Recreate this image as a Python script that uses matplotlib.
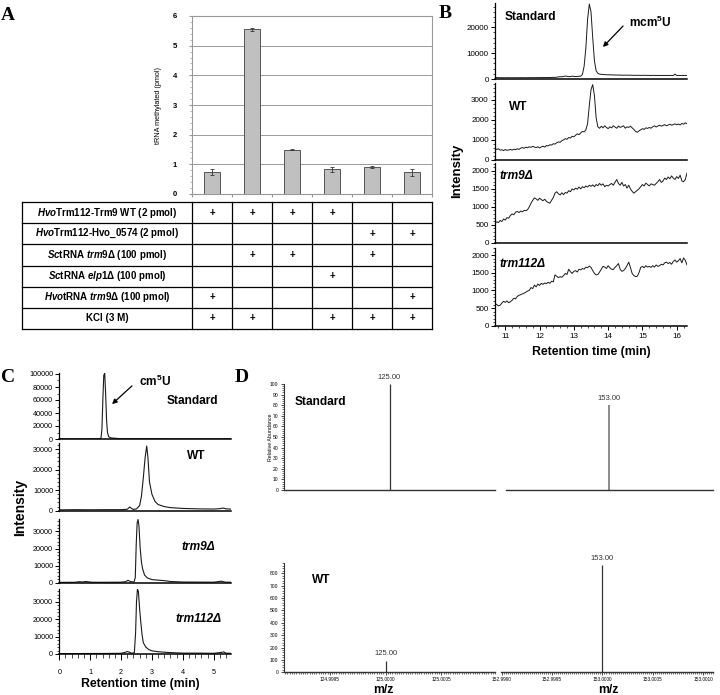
import numpy as np
import matplotlib
matplotlib.use("Agg")
import matplotlib.pyplot as plt
from matplotlib.ticker import MultipleLocator

plt.rcParams['font.family'] = ['Liberation Sans', 'DejaVu Sans']
plt.rcParams['mathtext.fontset'] = 'custom'
plt.rcParams['mathtext.it'] = 'Liberation Sans:italic:bold'
plt.rcParams['mathtext.rm'] = 'Liberation Sans:bold'
plt.rcParams['mathtext.bf'] = 'Liberation Sans:bold'

W, H = 720, 695

# ---------------- panel A data ----------------
bar_values = [0.73, 5.55, 1.50, 0.83, 0.90, 0.73]
bar_errors = [0.10, 0.05, 0.03, 0.08, 0.03, 0.12]
row_labels = [
    r"$\mathit{Hvo}$Trm112-Trm9 WT (2 pmol)",
    r"$\mathit{Hvo}$Trm112-Hvo_0574 (2 pmol)",
    r"$\mathit{Sc}$tRNA $\mathit{trm9}$Δ (100 pmol)",
    r"$\mathit{Sc}$tRNA $\mathit{elp1}$Δ (100 pmol)",
    r"$\mathit{Hvo}$tRNA $\mathit{trm9}$Δ (100 pmol)",
    "KCl (3 M)",
]
row_marks = [
    [1, 1, 1, 1, 0, 0],
    [0, 0, 0, 0, 1, 1],
    [0, 1, 1, 0, 1, 0],
    [0, 0, 0, 1, 0, 0],
    [1, 0, 0, 0, 0, 1],
    [1, 1, 0, 1, 1, 1],
]

# ---------------- panel B data (retention time, min) ----------------
b_time = np.round(np.arange(10.70, 16.301, 0.05), 2)
b_standard = [
    600, 550, 500, 520, 480, 500, 470, 490, 500, 480,
    470, 490, 500, 480, 500, 520, 510, 500, 490, 510,
    520, 530, 510, 520, 540, 530, 550, 540, 560, 550,
    570, 560, 580, 600, 620, 640, 700, 800, 900, 850,
    1000, 1150, 1050, 900, 950, 1100, 1000, 950, 1000, 1050,
    1100, 1800, 5000, 12000, 23000, 29000, 26000, 16000, 7000, 3200,
    2200, 1900, 1800, 1750, 1700, 1650, 1600, 1650, 1600, 1550,
    1550, 1500, 1550, 1500, 1500, 1450, 1500, 1450, 1500, 1450,
    1450, 1400, 1450, 1400, 1450, 1400, 1400, 1450, 1400, 1400,
    1400, 1350, 1400, 1400, 1350, 1400, 1350, 1400, 1350, 1400,
    1350, 1400, 1350, 1400, 1350, 1900, 1350, 1400, 1350, 1400,
    1350, 1400, 1350,
]
b_wt = [
    580, 520, 560, 490, 510, 470, 520, 480, 500, 530,
    490, 540, 510, 560, 530, 590, 620, 580, 640, 610,
    660, 630, 680, 640, 620, 660, 600, 650, 690, 640,
    720, 700, 760, 740, 810, 790, 860, 900, 880, 960,
    1000, 1060, 1030, 1120, 1090, 1180, 1150, 1230, 1300, 1260,
    1350, 1420, 1400, 1500, 1800, 2700, 3500, 3750, 3200, 2100,
    1650, 1580, 1680, 1600, 1700, 1620, 1560, 1650, 1600, 1700,
    1640, 1580, 1690, 1620, 1660, 1700, 1580, 1650, 1620, 1680,
    1600, 1520, 1420, 1380, 1450, 1500, 1560, 1520, 1600, 1570,
    1620, 1580, 1650, 1700, 1640, 1690, 1730, 1680, 1720, 1760,
    1700, 1740, 1780, 1730, 1760, 1800, 1750, 1790, 1740, 1820,
    1780, 1850, 1800,
]
b_trm9 = [
    540, 580, 560, 620, 590, 660, 630, 700, 680, 760,
    800, 780, 850, 870, 840, 880, 860, 900, 890, 920,
    1000, 1100, 1180, 1250, 1220, 1180, 1240, 1200, 1170, 1210,
    1150, 1120, 1100, 1180, 1260, 1380, 1420, 1360, 1330, 1390,
    1340, 1400, 1380, 1450, 1420, 1500, 1470, 1520, 1490, 1550,
    1500, 1560, 1530, 1580, 1550, 1600, 1570, 1610, 1560, 1620,
    1590, 1650, 1600, 1640, 1560, 1600, 1580, 1620, 1650, 1600,
    1680, 1760, 1650, 1600, 1680, 1580, 1620, 1520, 1600, 1500,
    1430, 1380, 1420, 1460, 1500, 1560, 1620, 1580, 1660, 1620,
    1580, 1640, 1620, 1600, 1650, 1700, 1760, 1680, 1720, 1800,
    1760, 1830, 1780, 1860, 1800, 1760, 1840, 1790, 1880, 1720,
    1700, 1760, 1940,
]
b_trm112 = [
    620, 600, 560, 580, 640, 690, 660, 700, 650, 680,
    720, 780, 760, 830, 860, 880, 900, 920, 950, 980,
    1000, 1080, 1050, 1150, 1100, 1180, 1140, 1200, 1170, 1210,
    1190, 1230, 1200, 1260, 1240, 1440, 1400, 1360, 1390, 1370,
    1420, 1480, 1450, 1600, 1530, 1480, 1540, 1560, 1520, 1600,
    1580, 1620, 1600, 1660, 1640, 1690, 1650, 1560, 1480, 1440,
    1450, 1520, 1600, 1680, 1660, 1620, 1700, 1640, 1600, 1590,
    1650, 1700, 1760, 1600, 1540, 1560, 1620, 1700, 1800, 1650,
    1480, 1420, 1390, 1400, 1500, 1650, 1680, 1640, 1700, 1660,
    1680, 1650, 1700, 1660, 1720, 1680, 1700, 1740, 1720, 1780,
    1800, 1760, 1790, 1740, 1820, 1860, 1800, 1840, 1900, 1780,
    1920, 1850, 1720,
]

# ---------------- panel C data ----------------
c_std_t = [0.0, 0.5, 1.0, 1.2, 1.3, 1.35, 1.38, 1.41, 1.44, 1.47, 1.50, 1.53,
           1.56, 1.60, 1.65, 1.7, 1.8, 1.9, 2.0, 2.5, 3.0, 3.5, 4.0, 4.5, 5.0, 5.55]
c_std_i = [200, 200, 250, 300, 400, 1500, 15000, 60000, 98000, 101000, 70000, 30000,
           10000, 3500, 2000, 1500, 1200, 700, 400, 300, 300, 250, 250, 250, 250, 250]
c_wt_t = [0.0, 0.5, 1.0, 1.5, 2.0, 2.2, 2.28, 2.33, 2.4, 2.5, 2.6, 2.66, 2.72, 2.78,
          2.83, 2.87, 2.92, 3.0, 3.1, 3.2, 3.4, 3.6, 4.0, 4.5, 5.0, 5.2, 5.3, 5.4, 5.55]
c_wt_i = [400, 500, 450, 500, 500, 700, 1800, 1200, 600, 900, 2500, 7000, 16000, 26000,
          31500, 26000, 14000, 8000, 4500, 3000, 2000, 1500, 1100, 900, 800, 1000, 1300, 900, 800]
c_trm9_t = [0.0, 0.5, 0.65, 0.75, 0.85, 0.95, 1.05, 1.2, 1.5, 2.0, 2.15, 2.22, 2.28, 2.35,
            2.42, 2.46, 2.49, 2.52, 2.55, 2.58, 2.62, 2.66, 2.7, 2.76, 2.85, 3.0, 3.2, 3.4,
            3.6, 4.0, 4.5, 5.0, 5.25, 5.32, 5.4, 5.55]
c_trm9_i = [200, 250, 600, 400, 700, 500, 300, 250, 250, 300, 600, 1400, 900, 500,
            400, 3000, 22000, 35000, 37000, 33000, 20000, 12000, 8000, 4500, 2800, 1800, 1500, 1200,
            700, 400, 350, 300, 900, 500, 300, 300]
c_trm112_t = [0.0, 0.5, 1.0, 1.5, 2.0, 2.12, 2.2, 2.27, 2.35, 2.43, 2.47, 2.5, 2.53, 2.56,
              2.6, 2.64, 2.68, 2.72, 2.8, 2.9, 3.0, 3.2, 3.5, 4.0, 4.5, 5.0, 5.25, 5.32, 5.4, 5.55]
c_trm112_i = [200, 250, 300, 300, 400, 900, 1400, 1000, 400, 800, 12000, 30000, 37000, 36000,
              26000, 18000, 11000, 6500, 4000, 2500, 1800, 1300, 900, 500, 500, 400, 900, 1200, 500, 400]

# ---------------- panel D data ----------------
d_mz = [125.00, 153.00]
d_std_rel = [100, 80]
d_wt_abs = [94, 865]
d_left_ticks = [124.9995, 125.0000, 125.0005]
d_right_ticks = [152.9990, 152.9995, 153.0000, 153.0005, 153.0010]


fig = plt.figure(figsize=(W / 100, H / 100), dpi=100)


def add_ax(x0, y0, x1, y1):
    # pixel box (top-left origin) -> figure fraction
    return fig.add_axes([x0 / W, 1 - y1 / H, (x1 - x0) / W, (y1 - y0) / H])


def ftext(x, y, s, **kw):
    kw.setdefault('va', 'center')
    return fig.text(x / W, 1 - y / H, s, **kw)


def arrow(x0, y0, x1, y1):
    fig.add_artist(matplotlib.patches.FancyArrowPatch(
        (x0 / W, 1 - y0 / H), (x1 / W, 1 - y1 / H), transform=fig.transFigure,
        arrowstyle='-|>', mutation_scale=7, lw=0.9, color='black'))


# ================= A: bar chart =================
ax = add_ax(192, 16, 432, 194)
xpos = np.arange(len(bar_values)) + 0.5
ax.bar(xpos, bar_values, width=0.4, color='#c0c0c0', edgecolor='#555555', linewidth=0.7,
       yerr=bar_errors, error_kw=dict(ecolor='#333333', elinewidth=0.6, capsize=1.2, capthick=0.6),
       zorder=3)
ax.set_xlim(0, len(bar_values))
ax.set_ylim(0, 6)
ax.yaxis.grid(True, color='#9a9a9a', lw=0.7)
ax.set_axisbelow(True)
ax.set_xticks(np.arange(len(bar_values) + 1))
ax.set_xticklabels([])
ax.set_yticks(range(7))
ax.yaxis.set_minor_locator(MultipleLocator(0.2))
ax.tick_params(axis='x', length=2, color='#999999')
ax.tick_params(axis='y', which='major', length=2, color='#999999', labelsize=5.5, pad=9)
ax.tick_params(axis='y', which='minor', length=1.2, color='#aaaaaa')
for lab in ax.get_yticklabels():
    lab.set_fontweight('bold')
for s in ax.spines.values():
    s.set_color('#999999')
    s.set_linewidth(0.8)
ax.set_ylabel('tRNA methylated (pmol)', fontsize=5.2)
ax.yaxis.set_label_coords(-30 / 240, 0.5)

# table below the bars
tab = add_ax(22, 202, 432, 329)
label_w = 170 / 40
tab.set_xlim(-label_w, len(bar_values))
tab.set_ylim(len(row_labels), 0)
tab.axis('off')
for r in range(len(row_labels) + 1):
    tab.axhline(r, color='black', lw=0.9, clip_on=False)
for c in [-label_w] + list(range(len(bar_values) + 1)):
    tab.axvline(c, color='black', lw=0.9, clip_on=False)
for r, (lab, marks) in enumerate(zip(row_labels, row_marks)):
    tab.text(-label_w / 2, r + 0.5, lab, ha='center', va='center', fontsize=7, fontweight='bold')
    for c, m in enumerate(marks):
        if m:
            tab.text(c + 0.5, r + 0.5, '+', ha='center', va='center', fontsize=7, fontweight='bold')


# ================= shared style for chromatograms =================
def style_trace(ax, xlim, ylim, ymajor, yminor, show_x, xmajor, xminor, lsize, xpad=2, xlen=3):
    ax.set_xlim(*xlim)
    ax.set_ylim(*ylim)
    ax.patch.set_alpha(0)
    for s in ('top', 'right'):
        ax.spines[s].set_visible(False)
    ax.spines['left'].set_linewidth(0.9)
    ax.spines['bottom'].set_linewidth(1.1)
    ax.yaxis.set_major_locator(MultipleLocator(ymajor))
    ax.yaxis.set_minor_locator(MultipleLocator(yminor))
    ax.tick_params(axis='y', which='major', length=3, width=0.7, labelsize=lsize, pad=1.5)
    ax.tick_params(axis='y', which='minor', length=1.8, width=0.5)
    if show_x:
        ax.xaxis.set_major_locator(MultipleLocator(xmajor))
        ax.xaxis.set_minor_locator(MultipleLocator(xminor))
        ax.tick_params(axis='x', which='major', length=xlen, width=0.7, labelsize=lsize, pad=xpad)
        ax.tick_params(axis='x', which='minor', length=xlen * 0.6, width=0.5)
    else:
        ax.tick_params(axis='x', which='both', bottom=False, labelbottom=False)


# ================= B =================
b_boxes = [(495, 3, 687, 79), (495, 83, 687, 160), (495, 163, 687, 242.7), (495, 248, 687, 325.7)]
b_traces = [b_standard, b_wt, b_trm9, b_trm112]
b_ylims = [(0, 29400), (0, 3830), (0, 2220), (0, 2200)]
b_major = [10000, 1000, 500, 500]
b_minor = [2000, 200, 100, 100]
for i, (box, tr) in enumerate(zip(b_boxes, b_traces)):
    bax = add_ax(*box)
    bax.plot(b_time, tr, color='#1a1a1a', lw=0.7)
    style_trace(bax, (10.7, 16.3), b_ylims[i], b_major[i], b_minor[i],
                i == len(b_boxes) - 1, 1, 0.2, 5.8)

ftext(505, 17, 'Standard', fontsize=8.6, fontweight='bold')
ftext(629, 22, r'mcm$^{\mathbf{5}}$U', fontsize=8.6, fontweight='bold')
arrow(625, 24, 601, 49)
ftext(509, 107, 'WT', fontsize=8.6, fontweight='bold')
ftext(500, 176, 'trm9Δ', fontsize=8.6, fontweight='bold', style='italic')
ftext(500, 264, 'trm112Δ', fontsize=8.6, fontweight='bold', style='italic')
ftext(457, 171, 'Intensity', fontsize=9.5, fontweight='bold', rotation=90, ha='center')
ftext(591, 352, 'Retention time (min)', fontsize=8.8, fontweight='bold', ha='center')

# ================= C =================
c_boxes = [(59.3, 372.7, 230.7, 439), (59.3, 443, 230.7, 510.7),
           (59.3, 519, 230.7, 582.7), (59.3, 589, 230.7, 654)]
c_traces = [(c_std_t, c_std_i), (c_wt_t, c_wt_i), (c_trm9_t, c_trm9_i), (c_trm112_t, c_trm112_i)]
c_ylims = [(0, 102000), (0, 33000), (0, 37300), (0, 37200)]
c_major = [20000, 10000, 10000, 10000]
c_minor = [10000, 2000, 2000, 2000]
for i, (box, (tt, yy)) in enumerate(zip(c_boxes, c_traces)):
    cax = add_ax(*box)
    cax.plot(tt, yy, color='#1a1a1a', lw=0.8)
    style_trace(cax, (0, 5.55), c_ylims[i], c_major[i], c_minor[i],
                i == len(c_boxes) - 1, 1, 0.2, 5.2, xpad=6, xlen=4.5)

ftext(139, 381, r'cm$^{\mathbf{5}}$U', fontsize=8.6, fontweight='bold')
arrow(134, 384, 110, 406)
ftext(192, 401, 'Standard', fontsize=8.6, fontweight='bold', ha='center')
ftext(196, 456, 'WT', fontsize=8.6, fontweight='bold', ha='center')
ftext(198, 547, 'trm9Δ', fontsize=8.6, fontweight='bold', style='italic', ha='center')
ftext(199, 619, 'trm112Δ', fontsize=8.6, fontweight='bold', style='italic', ha='center')
ftext(20, 507, 'Intensity', fontsize=10, fontweight='bold', rotation=90, ha='center')
ftext(140, 684, 'Retention time (min)', fontsize=8.8, fontweight='bold', ha='center')

# ================= D =================
d_tl = add_ax(284, 384, 495, 490)
d_tr = add_ax(505.7, 384, 713.3, 490)
d_bl = add_ax(284, 563.3, 495, 672.3)
d_br = add_ax(500.7, 563.3, 713.3, 672.3)
top_left_lim = (124.998942, 125.001058)
top_right_lim = (152.998955, 153.001055)
left_lim = (124.99909, 125.00098)
right_lim = (152.99899, 153.0011)

panels = [
    (d_tl, d_mz[0], d_std_rel[0], top_left_lim, (0, 100), '#333333', 0.9),
    (d_tr, d_mz[1], d_std_rel[1], top_right_lim, (0, 100), '#8c8c8c', 1.4),
    (d_bl, d_mz[0], d_wt_abs[0], left_lim, (0, 880), '#333333', 0.9),
    (d_br, d_mz[1], d_wt_abs[1], right_lim, (0, 880), '#333333', 0.9),
]
for dax, mz, val, xl, yl, col, lw in panels:
    dax.vlines(mz, 0, val, color=col, lw=lw)
    dax.annotate(f'{mz:.2f}', xy=(mz, val), xytext=(0, 2.5), textcoords='offset points',
                 ha='center', va='bottom', fontsize=5.5, color='#333333')
    dax.set_xlim(*xl)
    dax.set_ylim(*yl)
    dax.patch.set_alpha(0)
    for s in ('top', 'right'):
        dax.spines[s].set_visible(False)
    dax.spines['bottom'].set_color('#333333')
    dax.spines['bottom'].set_linewidth(1.0)
    dax.spines['left'].set_color('#333333')
    dax.spines['left'].set_linewidth(0.8)

for dax in (d_tr, d_br):
    dax.spines['left'].set_visible(False)
    dax.tick_params(axis='y', which='both', left=False, labelleft=False)
for dax in (d_tl, d_tr):
    dax.tick_params(axis='x', which='both', bottom=False, labelbottom=False)

d_tl.yaxis.set_major_locator(MultipleLocator(10))
d_tl.yaxis.set_minor_locator(MultipleLocator(2))
d_bl.yaxis.set_major_locator(MultipleLocator(100))
d_bl.yaxis.set_minor_locator(MultipleLocator(20))
for dax in (d_tl, d_bl):
    dax.tick_params(axis='y', which='major', length=2, width=0.5, labelsize=3.6, pad=2)
    dax.tick_params(axis='y', which='minor', length=1.3, width=0.4)

d_bl.set_xticks(d_left_ticks)
d_bl.set_xticklabels([f'{v:.4f}' for v in d_left_ticks])
d_br.set_xticks(d_right_ticks)
d_br.set_xticklabels([f'{v:.4f}' for v in d_right_ticks])
for dax in (d_bl, d_br):
    dax.xaxis.set_minor_locator(MultipleLocator(0.00002))
    dax.tick_params(axis='x', which='major', length=2, width=0.5, labelsize=3.4, pad=1.5)
    dax.tick_params(axis='x', which='minor', length=1.2, width=0.4)

ftext(295, 402, 'Standard', fontsize=8.6, fontweight='bold')
ftext(312, 580, 'WT', fontsize=8.6, fontweight='bold')
ftext(270, 437, 'Relative Abundance', fontsize=3.8, rotation=90, ha='center')
ftext(383, 690, 'm/z', fontsize=8.8, fontweight='bold', ha='center')
ftext(608, 690, 'm/z', fontsize=8.8, fontweight='bold', ha='center')

# ================= panel letters =================
for lett, (x, y) in zip('ABCD', [(8, 15), (445, 14), (8, 377), (242, 377)]):
    ftext(x, y, lett, fontsize=14, fontweight='bold', family='Liberation Serif', ha='center')

fig.savefig('out.png', dpi=100)
